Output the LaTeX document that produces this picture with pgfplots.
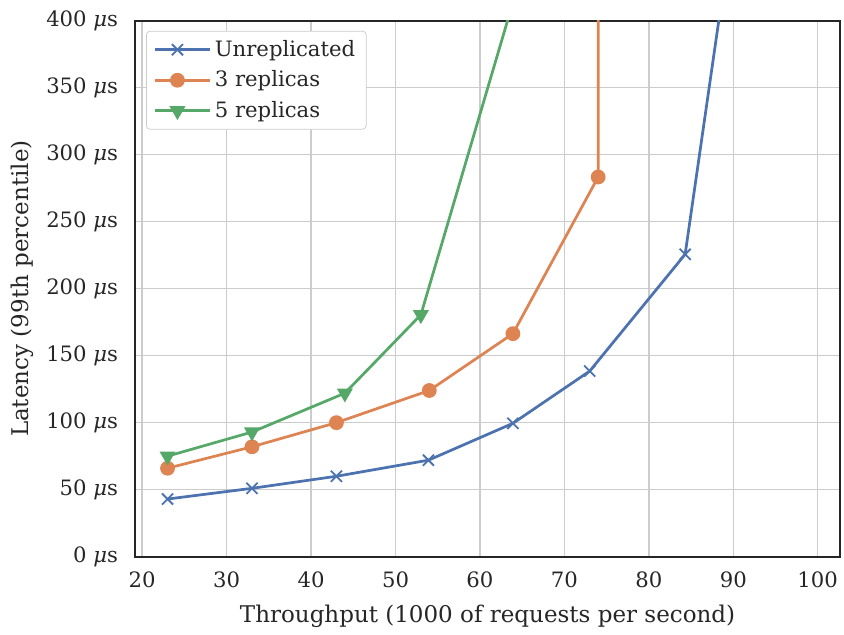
\documentclass[border=0pt]{standalone}
\usepackage{fontspec}
\setmainfont{DejaVu Serif}
\usepackage{pgfplots}
\pgfplotsset{compat=1.18}

\definecolor{sbblue}{HTML}{4C72B0}
\definecolor{sborange}{HTML}{DD8452}
\definecolor{sbgreen}{HTML}{55A868}
\definecolor{txt}{HTML}{262626}

\begin{document}
\begin{tikzpicture}
\begin{axis}[
  name=main,
  scale only axis,
  width=385.7pt, height=293.6pt,
  xmin=19.2, xmax=102.6, ymin=0, ymax=400,
  xtick={20,30,...,100},
  ytick={0,50,...,400},
  /pgf/number format/assume math mode=true,
  yticklabel={\pgfmathprintnumber{\tick}~\textit{μ}s},
  tick label style={font=\fontsize{11.6}{13.5}\selectfont, text=txt},
  yticklabel style={xshift=-6pt},
  xticklabel style={yshift=-5pt},
  label style={font=\fontsize{12.6}{15}\selectfont, text=txt},
  xlabel style={yshift=-2.5pt},
  xlabel={Throughput (1000 of requests per second)},
  ylabel={Latency (99th percentile)},
  major tick length=0pt,
  grid=major,
  major grid style={color=black!20, line width=0.8pt},
  axis line style={color=txt, line width=1.1pt},
  clip=true,
  legend style={at={(0.015,0.981)}, anchor=north west, draw=black!20,
    rounded corners=2pt, fill=white,
    font=\fontsize{11.6}{13.5}\selectfont, text=txt, row sep=2.4pt,
    inner xsep=4pt, inner ysep=3pt},
  legend cell align=left,
  legend image code/.code={
    \draw[mark indices={2}] plot coordinates {(0pt,0pt) (12.25pt,0pt) (24.5pt,0pt)};
    \path (0pt,0pt) -- (30pt,0pt);
  },
  every axis plot/.append style={line width=1.5pt},
]
\addplot[color=sbblue, mark=x, mark size=4.3pt, mark options={line width=1pt}, mark indices={1,2,3,4,5,6,7}]
  coordinates {(23,43) (33,51) (43,60) (53.9,72) (63.9,99.5) (73,138.5) (84.3,225.6) (90,475)};
\addlegendentry{Unreplicated}
\addplot[color=sborange, mark=*, mark size=3.3pt, mark indices={1,2,3,4,5,6}]
  coordinates {(23,66) (33,82) (43,100) (54,124) (63.9,166.4) (74,283.3) (74,520)};
\addlegendentry{3 replicas}
\addplot[color=sbgreen, mark=triangle*, mark size=3.6pt, mark options={rotate=180}, mark indices={1,2,3,4}]
  coordinates {(23,75) (33,93) (44,122) (53,180.5) (65,437)};
\addlegendentry{5 replicas}
\end{axis}
\path (main.south west) ++(-74.2pt,-40.4pt) coordinate (bl);
\path (main.north east) ++(0.55pt,11.3pt) coordinate (tr);
\path (bl) rectangle (tr);
\end{tikzpicture}
\end{document}
